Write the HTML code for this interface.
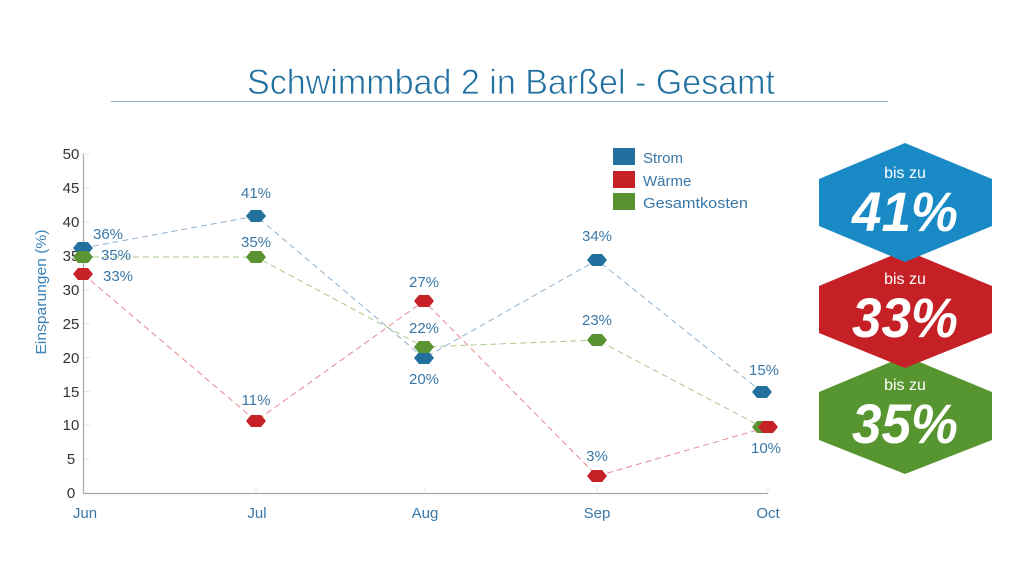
<!DOCTYPE html>
<html>
<head>
<meta charset="utf-8">
<style>
  html,body{margin:0;padding:0;background:#fff;}
  svg{display:block;}
  text{font-family:"Liberation Sans",Arial,sans-serif;}
</style>
</head>
<body>
<svg width="1024" height="576" viewBox="0 0 1024 576" xmlns="http://www.w3.org/2000/svg">
  <rect width="1024" height="576" fill="#fff"/>
  <!-- Title -->
  <text x="511" y="94" font-size="35" fill="#2370a2" stroke="#fff" stroke-width="0.7" text-anchor="middle" textLength="528" lengthAdjust="spacingAndGlyphs">Schwimmbad 2 in Barßel - Gesamt</text>
  <line x1="111" y1="101.5" x2="888" y2="101.5" stroke="#8fb0cc" stroke-width="1"/>

  <!-- Axes -->
  <line x1="83.5" y1="154" x2="83.5" y2="493" stroke="#a8a8a8" stroke-width="1.2"/>
  <line x1="83" y1="493.5" x2="768" y2="493.5" stroke="#a8a8a8" stroke-width="1.2"/>
  <g stroke="#e4e4e4" stroke-width="1">
    <line x1="84" y1="154" x2="90" y2="154"/>
    <line x1="84" y1="188" x2="90" y2="188"/>
    <line x1="84" y1="222" x2="90" y2="222"/>
    <line x1="84" y1="256" x2="90" y2="256"/>
    <line x1="84" y1="290" x2="90" y2="290"/>
    <line x1="84" y1="323.5" x2="90" y2="323.5"/>
    <line x1="84" y1="357.5" x2="90" y2="357.5"/>
    <line x1="84" y1="391.5" x2="90" y2="391.5"/>
    <line x1="84" y1="425" x2="90" y2="425"/>
    <line x1="84" y1="459" x2="90" y2="459"/>
    <line x1="256" y1="487" x2="256" y2="493"/>
    <line x1="425" y1="487" x2="425" y2="493"/>
    <line x1="597" y1="487" x2="597" y2="493"/>
    <line x1="768" y1="487" x2="768" y2="493"/>
  </g>

  <!-- Y tick labels -->
  <g font-size="15" fill="#333" text-anchor="middle">
    <text x="71" y="159">50</text>
    <text x="71" y="193">45</text>
    <text x="71" y="227">40</text>
    <text x="71" y="261">35</text>
    <text x="71" y="295">30</text>
    <text x="71" y="329">25</text>
    <text x="71" y="363">20</text>
    <text x="71" y="397">15</text>
    <text x="71" y="430">10</text>
    <text x="71" y="464">5</text>
    <text x="71" y="498">0</text>
  </g>

  <!-- Y axis title -->
  <text transform="translate(46,292) rotate(-90)" font-size="15" fill="#3a82b8" text-anchor="middle" textLength="125" lengthAdjust="spacingAndGlyphs">Einsparungen (%)</text>

  <!-- X labels -->
  <g font-size="15" fill="#3a77a6" text-anchor="middle">
    <text x="85" y="518">Jun</text>
    <text x="257" y="518">Jul</text>
    <text x="425" y="518">Aug</text>
    <text x="597" y="518">Sep</text>
    <text x="768" y="518">Oct</text>
  </g>

  <!-- Dashed lines -->
  <g fill="none" stroke-width="1" stroke-dasharray="6,4">
    <polyline points="83,248 256,216 424,358 597,260 762,392" stroke="#8eb1cf"/>
    <polyline points="83,257 256,257 424,347 597,340 762,427" stroke="#a9c98f"/>
    <polyline points="83,274 256,421 424,301 597,476 768,427" stroke="#e48a8e"/>
  </g>

  <!-- Markers -->
  <defs>
    <polygon id="hx" points="-10,0 -5,-6 5,-6 10,0 5,6 -5,6"/>
  </defs>
  <g fill="#23709e">
    <use href="#hx" x="83" y="248"/>
    <use href="#hx" x="256" y="216"/>
    <use href="#hx" x="424" y="358"/>
    <use href="#hx" x="597" y="260"/>
    <use href="#hx" x="762" y="392"/>
  </g>
  <g fill="#5a9432">
    <use href="#hx" x="83" y="257"/>
    <use href="#hx" x="256" y="257"/>
    <use href="#hx" x="424" y="347"/>
    <use href="#hx" x="597" y="340"/>
    <use href="#hx" x="762" y="427"/>
  </g>
  <g fill="#c62127">
    <use href="#hx" x="83" y="274"/>
    <use href="#hx" x="256" y="421"/>
    <use href="#hx" x="424" y="301"/>
    <use href="#hx" x="597" y="476"/>
    <use href="#hx" x="768" y="427"/>
  </g>

  <!-- Data labels -->
  <g font-size="15" fill="#3a77a6">
    <text x="93" y="239">36%</text>
    <text x="101" y="260">35%</text>
    <text x="103" y="281">33%</text>
    <g text-anchor="middle">
      <text x="256" y="198">41%</text>
      <text x="256" y="247">35%</text>
      <text x="256" y="405">11%</text>
      <text x="424" y="287">27%</text>
      <text x="424" y="333">22%</text>
      <text x="424" y="384">20%</text>
      <text x="597" y="241">34%</text>
      <text x="597" y="325">23%</text>
      <text x="597" y="461">3%</text>
      <text x="764" y="375">15%</text>
      <text x="766" y="453">10%</text>
    </g>
  </g>

  <!-- Legend -->
  <rect x="613" y="148" width="22" height="17" fill="#23709e"/>
  <rect x="613" y="171" width="22" height="17" fill="#c62127"/>
  <rect x="613" y="193" width="22" height="17" fill="#5a9432"/>
  <g font-size="15" fill="#3a77a6">
    <text x="643" y="163">Strom</text>
    <text x="643" y="186">Wärme</text>
    <text x="643" y="208" textLength="105" lengthAdjust="spacingAndGlyphs">Gesamtkosten</text>
  </g>

  <!-- Right hexagons -->
  <polygon points="905,356 992,392 992,440 905,474 819,440 819,392" fill="#579530"/>
  <polygon points="905,250 992,286 992,333 905,368 819,333 819,286" fill="#c42026"/>
  <polygon points="905,143 992,179 992,226 905,262 819,226 819,179" fill="#1a8ac6"/>

  <g fill="#fff" text-anchor="middle">
    <text x="905" y="178" font-size="16">bis zu</text>
    <text x="905" y="231" font-size="56" font-weight="bold" font-style="italic" textLength="106" lengthAdjust="spacingAndGlyphs">41%</text>
    <text x="905" y="284" font-size="16">bis zu</text>
    <text x="905" y="337" font-size="56" font-weight="bold" font-style="italic" textLength="106" lengthAdjust="spacingAndGlyphs">33%</text>
    <text x="905" y="390" font-size="16">bis zu</text>
    <text x="905" y="443" font-size="56" font-weight="bold" font-style="italic" textLength="106" lengthAdjust="spacingAndGlyphs">35%</text>
  </g>
</svg>
</body>
</html>
